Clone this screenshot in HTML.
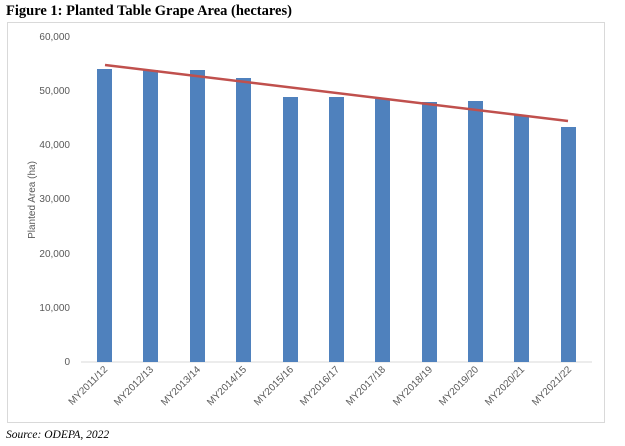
<!DOCTYPE html>
<html><head><style>
body{margin:0;width:625px;height:446px;background:#fff;overflow:hidden}
</style></head><body>
<svg width="625" height="446" xmlns="http://www.w3.org/2000/svg" style="position:absolute;left:0;top:0">
<text x="6" y="15" font-family="Liberation Serif" font-weight="bold" font-size="14.5">Figure 1: Planted Table Grape Area (hectares)</text>
<rect x="7.5" y="22.5" width="597" height="400" fill="#fff" stroke="#d9d9d9"/>
<g font-family="Liberation Sans" font-size="10" fill="#595959" text-anchor="end">
<text x="70" y="40">60,000</text>
<text x="70" y="94">50,000</text>
<text x="70" y="148">40,000</text>
<text x="70" y="202">30,000</text>
<text x="70" y="257">20,000</text>
<text x="70" y="311">10,000</text>
<text x="70" y="365">0</text>
</g>
<text transform="translate(35,200) rotate(-90)" font-family="Liberation Sans" font-size="10" fill="#595959" text-anchor="middle">Planted Area (ha)</text>
<line x1="81" y1="362" x2="592" y2="362" stroke="#d9d9d9"/>
<g fill="#4f81bd">
<rect x="97" y="69" width="15" height="293"/>
<rect x="143" y="70" width="15" height="292"/>
<rect x="190" y="70" width="15" height="292"/>
<rect x="236" y="78" width="15" height="284"/>
<rect x="283" y="97" width="15" height="265"/>
<rect x="329" y="97" width="15" height="265"/>
<rect x="375" y="99" width="15" height="263"/>
<rect x="422" y="102" width="15" height="260"/>
<rect x="468" y="101" width="15" height="261"/>
<rect x="514" y="115" width="15" height="247"/>
<rect x="561" y="127" width="15" height="235"/>
</g>
<line x1="105" y1="65" x2="568" y2="121" stroke="#c0504d" stroke-width="2.5"/>
<g font-family="Liberation Sans" font-size="10" fill="#595959" text-anchor="end">
<text transform="translate(108,370) rotate(-45)">MY2011/12</text>
<text transform="translate(154,370) rotate(-45)">MY2012/13</text>
<text transform="translate(201,370) rotate(-45)">MY2013/14</text>
<text transform="translate(247,370) rotate(-45)">MY2014/15</text>
<text transform="translate(294,370) rotate(-45)">MY2015/16</text>
<text transform="translate(340,370) rotate(-45)">MY2016/17</text>
<text transform="translate(386,370) rotate(-45)">MY2017/18</text>
<text transform="translate(433,370) rotate(-45)">MY2018/19</text>
<text transform="translate(479,370) rotate(-45)">MY2019/20</text>
<text transform="translate(525,370) rotate(-45)">MY2020/21</text>
<text transform="translate(572,370) rotate(-45)">MY2021/22</text>
</g>
<text x="6" y="438" font-family="Liberation Serif" font-style="italic" font-size="11.5">Source: ODEPA, 2022</text>
</svg>
</body></html>
